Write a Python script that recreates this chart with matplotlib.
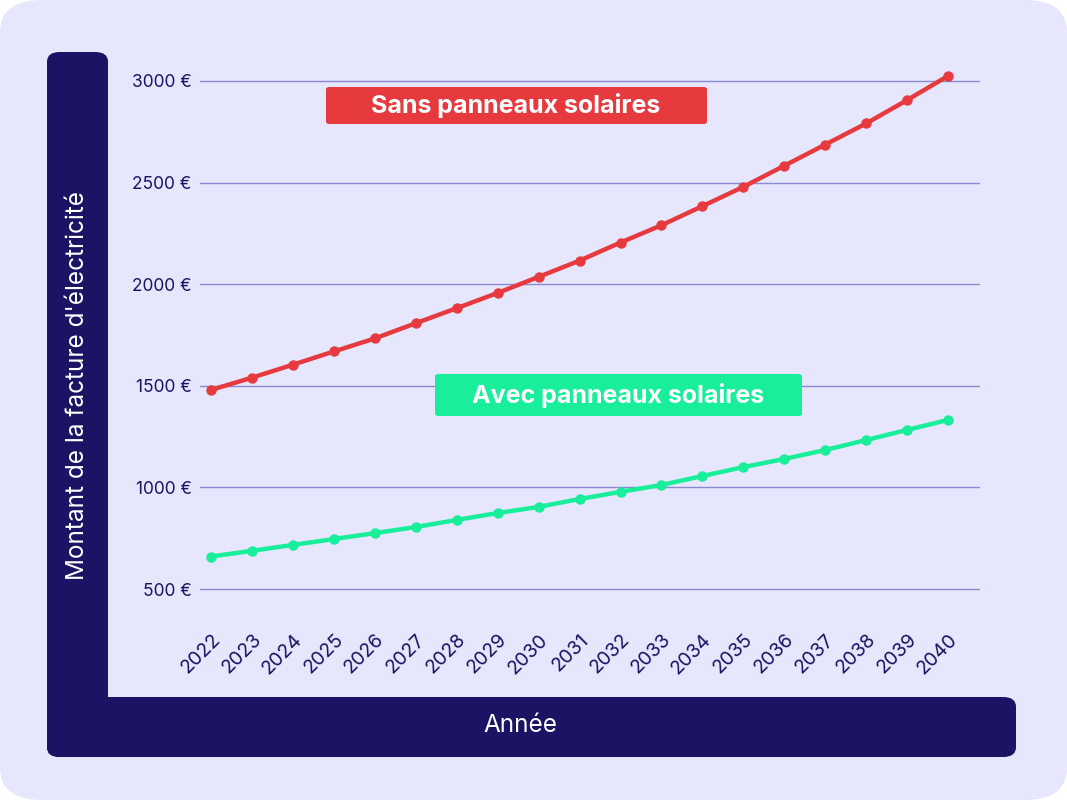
import matplotlib
matplotlib.use("Agg")
import matplotlib.pyplot as plt
from matplotlib.patches import FancyBboxPatch

years = list(range(2022, 2041))
sans = [1480, 1540, 1604, 1669, 1733, 1808, 1882, 1957, 2036, 2116, 2205, 2290, 2384, 2479, 2583, 2687, 2791, 2906, 3025]
avec = [660, 688, 717, 746, 775, 805, 840, 874, 904, 943, 978, 1012, 1056, 1100, 1140, 1184, 1233, 1283, 1332]
yticks = [500, 1000, 1500, 2000, 2500, 3000]
ytick_labels = ["500 €", "1000 €", "1500 €", "2000 €", "2500 €", "3000 €"]

W, H = 1067, 800
plt.rcParams["font.family"] = "Inter"
fig = plt.figure(figsize=(W/100, H/100), dpi=100)
fig.patch.set_facecolor("white")

def box(x0, y0, x1, y1, color, r=0.0, z=0):
    p = FancyBboxPatch((x0/W, 1-y1/H), (x1-x0)/W, (y1-y0)/H,
                       boxstyle=f"round,pad=0,rounding_size={r}", transform=fig.transFigure,
                       facecolor=color, edgecolor="none", zorder=z)
    fig.add_artist(p)

box(0, 0, 1067, 800, "#e6e6fd", r=0.04)
navy = "#1b1464"
box(47, 52, 108, 757, navy, r=0.012)
box(47, 697, 1016, 757, navy, r=0.012)

ax = fig.add_axes([200/W, 0.25, 780/W, 1-70/H-0.25])
ax.set_facecolor("none")
ax.set_xlim(2021.73, 2040.78)
ax.set_ylim(446, 3054)
ax.set_yticks(yticks)
ax.set_yticklabels(ytick_labels, fontsize=12.5, color="#1b1464")
ax.set_xticks(years)
ax.set_xticklabels([str(y) for y in years], rotation=45, ha="right", rotation_mode="anchor", fontsize=14, color="#1b1464")
ax.tick_params(axis="y", length=0, pad=6)
ax.tick_params(axis="x", length=0, pad=22)
ax.grid(axis="y", color="#8a8ad0", lw=1)
for s in ax.spines.values():
    s.set_visible(False)
ax.plot(years, sans, color="#e63a3f", lw=3.2, marker="o", ms=6.5)
ax.plot(years, avec, color="#19ee9b", lw=3.2, marker="o", ms=6.5)

box(326, 87, 707, 124, "#e63a3f", r=0.003, z=5)
fig.text(516/W, 1-106/H, "Sans panneaux solaires", color="white", fontsize=18, fontweight="bold", ha="center", va="center", zorder=6)
box(435, 374, 802, 416, "#19ee9b", r=0.003, z=5)
fig.text(618/W, 1-395/H, "Avec panneaux solaires", color="white", fontsize=18, fontweight="bold", ha="center", va="center", zorder=6)

fig.text(78/W, 1-385/H, "Montant de la facture d'électricité", color="white", fontsize=17.5, rotation=90, ha="center", va="center")
fig.text(520/W, 1-725/H, "Année", color="white", fontsize=17.5, ha="center", va="center")

fig.savefig("out.png", dpi=100)
